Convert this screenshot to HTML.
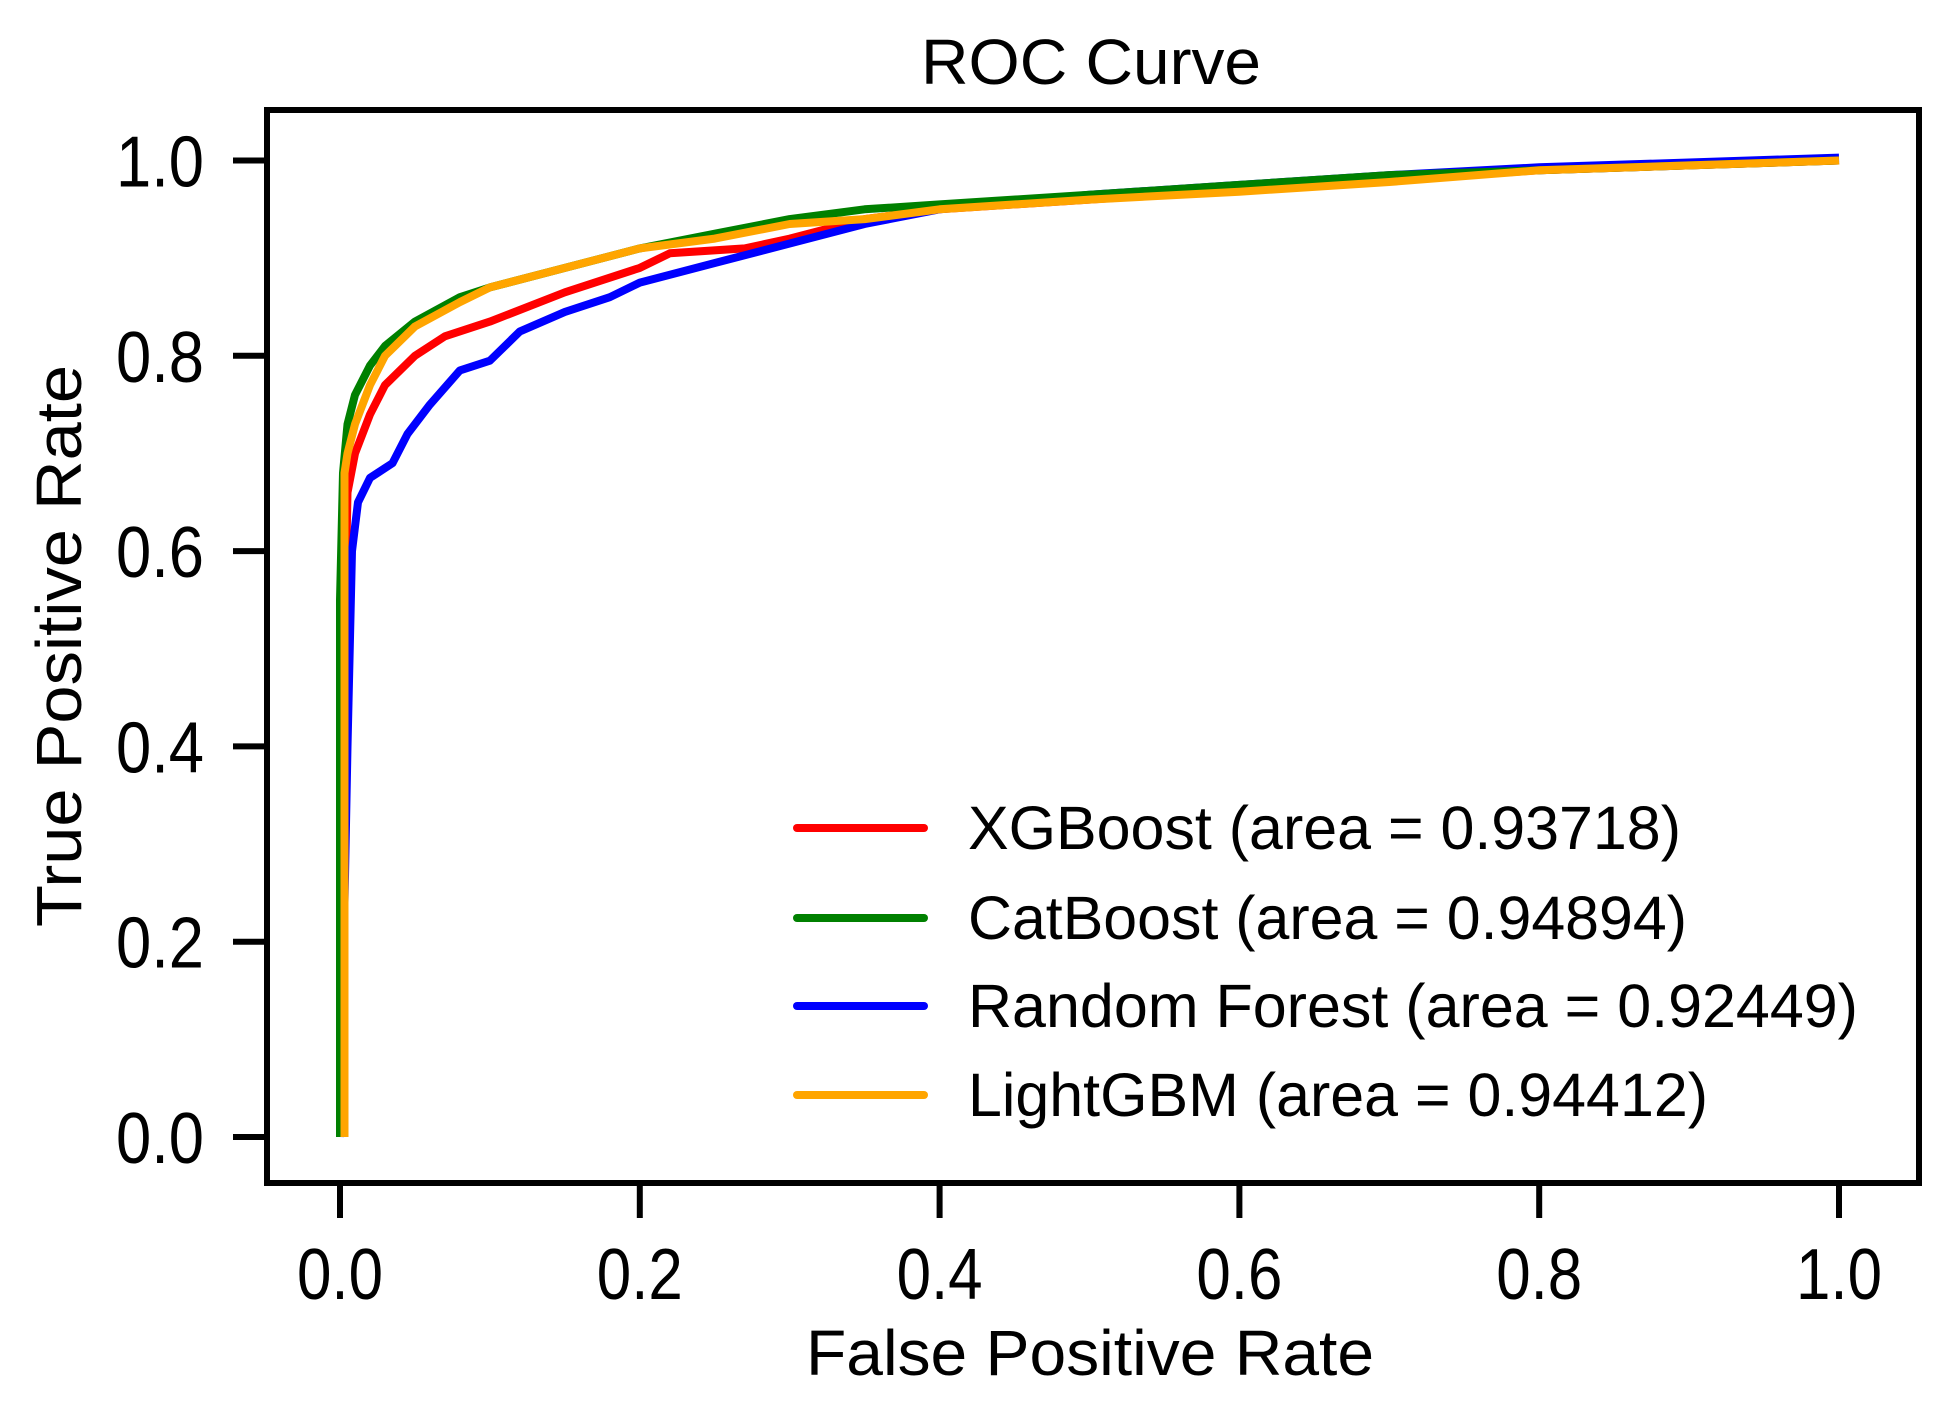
<!DOCTYPE html>
<html><head><meta charset="utf-8"><style>
html,body{margin:0;padding:0;background:#fff;}
svg{display:block;font-family:"Liberation Sans",Arial,sans-serif;}
</style></head><body>
<svg id="chart" width="1938" height="1413" viewBox="0 0 1938 1413">
<rect x="0" y="0" width="1938" height="1413" fill="#fff"/>
<text x="1091" y="84" font-size="64" text-anchor="middle" textLength="340" lengthAdjust="spacingAndGlyphs">ROC Curve</text>
<g id="plot"></g>
<rect x="267" y="110" width="1652" height="1073" fill="none" stroke="#000" stroke-width="6"/>
<g id="ticks"></g>
<text x="1090" y="1375" font-size="64" text-anchor="middle" textLength="568" lengthAdjust="spacingAndGlyphs">False Positive Rate</text>
<text transform="translate(81,646) rotate(-90)" font-size="64" text-anchor="middle" textLength="562" lengthAdjust="spacingAndGlyphs">True Positive Rate</text>
<g id="legend"></g>
</svg>
<script>
const xTicks = [0, 0.2, 0.4, 0.6, 0.8, 1.0];
const yTicks = [0, 0.2, 0.4, 0.6, 0.8, 1.0];
const tickLabels = ["0.0", "0.2", "0.4", "0.6", "0.8", "1.0"];
const seriesNames = ["XGBoost (area = 0.93718)", "CatBoost (area = 0.94894)", "Random Forest (area = 0.92449)", "LightGBM (area = 0.94412)"];
const seriesColors = ["#ff0000", "#008000", "#0000ff", "#ffa500"];
const xgbFpr = [0,0.003,0.005,0.01,0.02,0.03,0.05,0.07,0.1,0.15,0.2,0.22,0.27,0.3,0.35,0.4,0.5,0.6,0.7,0.8,0.9,1];
const xgbTpr = [0,0.5,0.66,0.70,0.74,0.77,0.80,0.82,0.835,0.865,0.89,0.905,0.91,0.92,0.94,0.95,0.96,0.97,0.98,0.99,0.995,1];
const catFpr = [0,0,0.002,0.005,0.01,0.02,0.03,0.05,0.08,0.1,0.15,0.2,0.25,0.3,0.35,0.4,0.5,0.6,0.7,0.8,0.9,1];
const catTpr = [0,0.55,0.68,0.73,0.76,0.79,0.81,0.835,0.86,0.87,0.89,0.91,0.925,0.94,0.95,0.955,0.965,0.975,0.985,0.99,0.995,1];
const rfFpr = [0,0.005,0.008,0.012,0.02,0.035,0.045,0.06,0.08,0.1,0.12,0.15,0.18,0.2,0.25,0.3,0.35,0.4,0.5,0.6,0.7,0.8,0.9,1];
const rfTpr = [0,0.4,0.6,0.65,0.675,0.69,0.72,0.75,0.785,0.795,0.825,0.845,0.86,0.875,0.895,0.915,0.935,0.95,0.965,0.975,0.985,0.993,0.998,1.003];
const lgbFpr = [0.003,0.003,0.005,0.01,0.02,0.03,0.05,0.08,0.1,0.15,0.2,0.25,0.3,0.35,0.4,0.5,0.6,0.7,0.8,0.9,1];
const lgbTpr = [0,0.68,0.70,0.73,0.77,0.80,0.83,0.855,0.87,0.89,0.91,0.92,0.935,0.94,0.95,0.96,0.968,0.978,0.99,0.995,1];

const NS = "http://www.w3.org/2000/svg";
function xScale(v){ return 340 + v * 1499; }
function yScale(v){ return 1137 - v * 976.5; }

const plot = document.getElementById('plot');
const drawOrder = [[xgbFpr, xgbTpr, 0, 'xgboost-curve'], [rfFpr, rfTpr, 2, 'random-forest-curve'], [catFpr, catTpr, 1, 'catboost-curve'], [lgbFpr, lgbTpr, 3, 'lightgbm-curve']];
drawOrder.forEach(function(s){
  const pts = s[0].map(function(f, i){ return xScale(f).toFixed(1) + ',' + yScale(s[1][i]).toFixed(1); }).join(' ');
  const pl = document.createElementNS(NS, 'polyline');
  pl.setAttribute('points', pts);
  pl.setAttribute('fill', 'none');
  pl.setAttribute('stroke', seriesColors[s[2]]);
  pl.setAttribute('stroke-width', '8');
  pl.setAttribute('stroke-linejoin', 'round');
  
  
  plot.appendChild(pl);
});

const ticks = document.getElementById('ticks');
xTicks.forEach(function(v, i){
  const x = xScale(v);
  const l = document.createElementNS(NS, 'line');
  l.setAttribute('x1', x); l.setAttribute('x2', x); l.setAttribute('y1', 1183); l.setAttribute('y2', 1218);
  l.setAttribute('stroke', '#000'); l.setAttribute('stroke-width', '6');
  
  
  ticks.appendChild(l);
  const t = document.createElementNS(NS, 'text');
  t.setAttribute('x', x); t.setAttribute('y', 1299);
  t.setAttribute('font-size', '72'); t.setAttribute('text-anchor', 'middle');
  t.setAttribute('textLength', '86'); t.setAttribute('lengthAdjust', 'spacingAndGlyphs');
  t.textContent = tickLabels[i];
  
  
  ticks.appendChild(t);
});
yTicks.forEach(function(v, i){
  const y = yScale(v);
  const l = document.createElementNS(NS, 'line');
  l.setAttribute('x1', 233); l.setAttribute('x2', 267); l.setAttribute('y1', y); l.setAttribute('y2', y);
  l.setAttribute('stroke', '#000'); l.setAttribute('stroke-width', '6');
  
  
  ticks.appendChild(l);
  const t = document.createElementNS(NS, 'text');
  t.setAttribute('x', 204); t.setAttribute('y', y + 26);
  t.setAttribute('font-size', '72'); t.setAttribute('text-anchor', 'end');
  t.setAttribute('textLength', '88'); t.setAttribute('lengthAdjust', 'spacingAndGlyphs');
  t.textContent = tickLabels[i];
  
  
  ticks.appendChild(t);
});

const legend = document.getElementById('legend');
const legendY = [828, 918, 1006, 1095];
const legendW = [713, 719, 890, 740];
seriesNames.forEach(function(name, i){
  const l = document.createElementNS(NS, 'line');
  l.setAttribute('x1', 797); l.setAttribute('x2', 924); l.setAttribute('y1', legendY[i]); l.setAttribute('y2', legendY[i]);
  l.setAttribute('stroke', seriesColors[i]); l.setAttribute('stroke-width', '8'); l.setAttribute('stroke-linecap', 'round');
  
  
  legend.appendChild(l);
  const t = document.createElementNS(NS, 'text');
  t.setAttribute('x', 968); t.setAttribute('y', legendY[i] + 21);
  t.setAttribute('font-size', '61');
  t.setAttribute('textLength', legendW[i]); t.setAttribute('lengthAdjust', 'spacingAndGlyphs');
  t.textContent = name;
  
  
  legend.appendChild(t);
});
</script>
</body></html>
